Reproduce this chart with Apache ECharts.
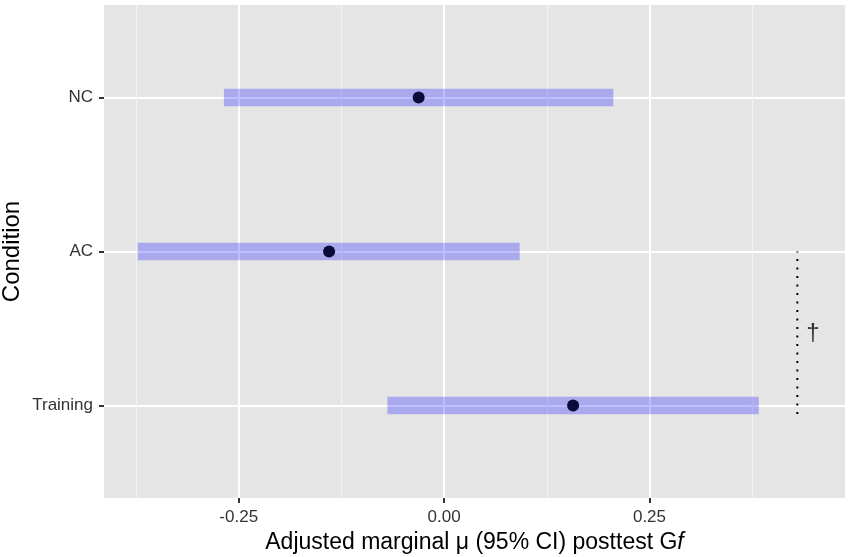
<!DOCTYPE html>
<html>
<head>
<meta charset="utf-8">
<script src="https://cdn.jsdelivr.net/npm/echarts@6/dist/echarts.min.js"></script>
<style>
  html, body { margin: 0; padding: 0; background: #fff; }
  #chart { width: 850px; height: 557px; }
</style>
</head>
<body>
<div id="chart"></div>
<script>
// conditions from bottom to top (y = 1, 2, 3)
const conditions = ['Training', 'AC', 'NC'];
const means = [0.157, -0.140, -0.031];
const ciLow = [-0.069, -0.373, -0.268];
const ciHigh = [0.383, 0.092, 0.206];
const xTicks = [-0.25, 0, 0.25];
const xMinor = [-0.375, -0.125, 0.125, 0.375];
// significance bracket between Training and AC
const bracketX = 0.43;
const bracketY = [0.945, 2.0];
const daggerPos = [0.449, 1.47];

const yPos = conditions.map((c, i) => i + 1);
const fontFam = '"Liberation Sans", Arial, sans-serif';

const ciSeries = conditions.map((c, i) => ({
  type: 'line',
  name: c,
  xAxisIndex: 0,
  data: [[ciLow[i], yPos[i]], [ciHigh[i], yPos[i]]],
  symbol: 'none',
  lineStyle: { width: 17.5, color: 'rgba(0,0,255,0.26)', cap: 'butt' },
  z: 3,
  silent: true
}));

const chart = echarts.init(document.getElementById('chart'));
chart.setOption({
  animation: false,
  textStyle: { fontFamily: fontFam },
  grid: {
    left: 104, right: 5, top: 5, bottom: 59,
    containLabel: false, outerBoundsMode: 'none',
    show: true, backgroundColor: '#e5e5e5', borderWidth: 0
  },
  xAxis: [{
    type: 'value', min: -0.414, max: 0.488,
    axisLine: { show: false, onZero: false },
    axisTick: { show: true, customValues: xTicks, length: 5, lineStyle: { color: '#333', width: 2 } },
    axisLabel: {
      customValues: xTicks, color: '#333', fontSize: 17, margin: 11,
      formatter: v => v.toFixed(2)
    },
    splitLine: { show: true, lineStyle: { color: '#fff', width: 2 } },
    name: '{t|Adjusted marginal μ (95% CI) posttest G}{i|f}',
    nameLocation: 'middle', nameGap: 33,
    nameTextStyle: {
      rich: {
        t: { fontSize: 23, color: '#000', fontFamily: fontFam },
        i: { fontSize: 23, color: '#000', fontStyle: 'italic', fontFamily: fontFam }
      }
    }
  }, {
    type: 'value', min: -0.414, max: 0.488, position: 'bottom',
    axisLine: { show: false, onZero: false }, axisTick: { show: false, customValues: xMinor },
    axisLabel: { show: false, customValues: xMinor },
    splitLine: { show: true, lineStyle: { color: '#f2f2f2', width: 1.2 } }
  }],
  yAxis: {
    type: 'value', min: 0.4, max: 3.6,
    axisLine: { show: false, onZero: false },
    axisTick: { show: true, customValues: yPos, length: 5, lineStyle: { color: '#333', width: 2 } },
    axisLabel: {
      customValues: yPos, color: '#333', fontSize: 17, margin: 11,
      formatter: v => conditions[Math.round(v) - 1]
    },
    splitLine: { show: true, lineStyle: { color: '#fff', width: 2 } },
    name: 'Condition', nameLocation: 'middle', nameGap: 80, nameRotate: 90,
    nameMoveOverlap: false,
    nameTextStyle: { fontSize: 24, color: '#000' }
  },
  series: ciSeries.concat([{
    type: 'scatter',
    data: conditions.map((c, i) => [means[i], yPos[i]]),
    symbolSize: 12,
    itemStyle: { color: '#0b0b3a', opacity: 1 },
    z: 4,
    silent: true
  }, {
    type: 'line',
    data: bracketY.map(y => [bracketX, y]),
    symbol: 'none',
    lineStyle: { color: '#000', width: 2, type: [2, 6.5] },
    z: 4,
    silent: true
  }, {
    type: 'scatter',
    data: [daggerPos],
    symbolSize: 1,
    itemStyle: { color: 'rgba(0,0,0,0)' },
    label: { show: true, position: 'inside', formatter: '†', fontSize: 24, color: '#000' },
    z: 4,
    silent: true
  }])
});
</script>
</body>
</html>
